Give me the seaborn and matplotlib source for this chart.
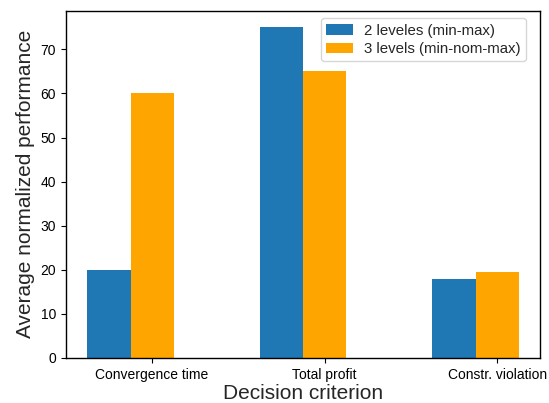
import matplotlib
matplotlib.use("Agg")
import matplotlib.pyplot as plt
import seaborn as sns
import pandas as pd

criteria = ["Convergence time", "Total profit", "Constr. violation"]
series_names = ["2 leveles (min-max)", "3 levels (min-nom-max)"]
two_levels = [20, 75, 18]
three_levels = [60, 65, 19.5]
colors = ["#1f77b4", "#FFA500"]

df = pd.DataFrame({
    "criterion": criteria * 2,
    "series": [series_names[0]] * 3 + [series_names[1]] * 3,
    "value": two_levels + three_levels,
})

sns.set_style("white")
plt.rcParams["font.family"] = ["Liberation Sans", "DejaVu Sans"]

fig = plt.figure(figsize=(5.49, 4.03), dpi=100)
ax = fig.add_axes([0.120, 0.112, 0.864, 0.861])

sns.barplot(data=df, x="criterion", y="value", hue="series",
            palette=colors, width=0.5, saturation=1, errorbar=None,
            linewidth=0, ax=ax)

# ticks sit under the second bar of each group
ax.set_xticks([i + 0.125 for i in range(len(criteria))])
ax.set_xticklabels(criteria)
ax.set_xlim(-0.375, 2.375)
ax.set_ylim(0, 78.75)

ax.set_xlabel("Decision criterion", fontsize=15, labelpad=2)
ax.set_ylabel("Average normalized performance", fontsize=15)
ax.tick_params(axis="both", labelsize=10, direction="out", length=3.5,
               width=0.8, bottom=True, left=True, colors="black")
for s in ax.spines.values():
    s.set_visible(True)
    s.set_color("black")
    s.set_linewidth(1.0)

ax.legend(loc="upper right", fontsize=10.8, frameon=True, fancybox=True,
          edgecolor="#cccccc", title=None, borderaxespad=0.5,
          labelspacing=0.3, handlelength=1.8, handleheight=0.7,
          handletextpad=0.7, borderpad=0.35, bbox_to_anchor=(0.985, 1.0))

fig.savefig("out.png", dpi=100)
